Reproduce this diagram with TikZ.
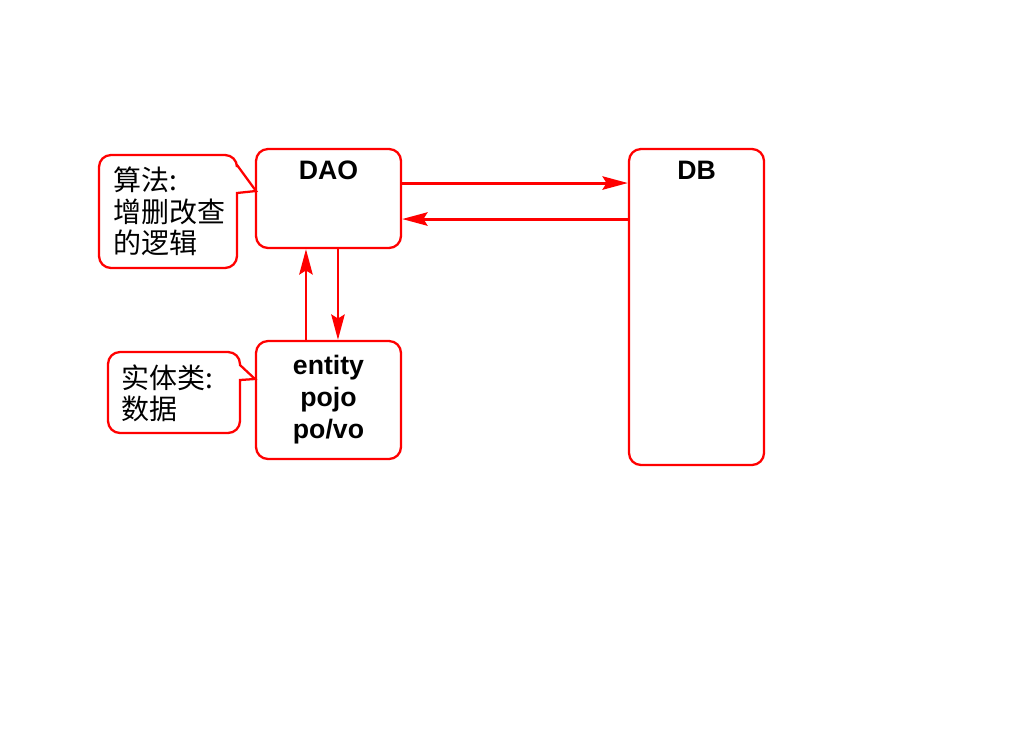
\documentclass[tikz,border=0pt]{standalone}
\usepackage{fontspec}
\setsansfont{Liberation Sans}
\newfontfamily\cjk{Noto Sans CJK SC}
\usetikzlibrary{arrows.meta}

\begin{document}
\begin{tikzpicture}[x=0.75pt, y=-0.75pt,
    box/.style={draw=red, line width=1.7pt, rounded corners=9pt, align=center,
      font=\sffamily\bfseries\fontsize{20}{24}\selectfont},
    title/.style={font=\sffamily\bfseries\fontsize{20}{24}\selectfont},
    note/.style={font=\cjk\fontsize{21}{23.5}\selectfont, align=left, inner sep=0pt, anchor=west},
    callout/.style={draw=red, line width=1.7pt},
    flow/.style={draw=red, line width=2.2pt, -{Stealth[length=19pt, width=10pt, inset=3pt]}}]
  \useasboundingbox (0,0) rectangle (1024,728);

  % boxes
  \node[box, minimum width=108.75pt, minimum height=74.25pt] (dao) at (328.5,198.5) {};
  \node[box, minimum width=108.75pt, minimum height=88.5pt] (entity) at (328.5,400) {entity\\pojo\\po/vo};
  \node[box, minimum width=101.25pt, minimum height=237pt] (db) at (696.5,307) {};
  \node[title] (daotitle) at ([yshift=-17pt]dao.north) {DAO};
  \node[title] (dbtitle) at ([yshift=-17pt]db.north) {DB};

  % callouts
  \draw[callout] (256,191) -- (237,193) [rounded corners=9pt] -- (237,268) -- (99,268)
    -- (99,155) -- (237,155) [sharp corners] -- (237,165) -- cycle;
  \node[note] (algo) at (113,211.5) {算法:\\增删改查\\的逻辑};
  \draw[callout] (255,379) -- (240,380) [rounded corners=9pt] -- (240,433) -- (108,433)
    -- (108,352) -- (240,352) [sharp corners] -- (240,365) -- cycle;
  \node[note] (data) at (121,393.5) {实体类:\\数据};

  % flows
  \draw[flow] ([yshift=11.6pt]dao.east) -- ([yshift=11.6pt]dao.east -| db.west);
  \draw[flow] ([yshift=-15.4pt]dao.east -| db.west) -- ([yshift=-15.4pt]dao.east);
  \draw[flow] ([xshift=-16.9pt]entity.north) -- ([xshift=-16.9pt]dao.south);
  \draw[flow] ([xshift=7.1pt]dao.south) -- ([xshift=7.1pt]entity.north);
\end{tikzpicture}
\end{document}
